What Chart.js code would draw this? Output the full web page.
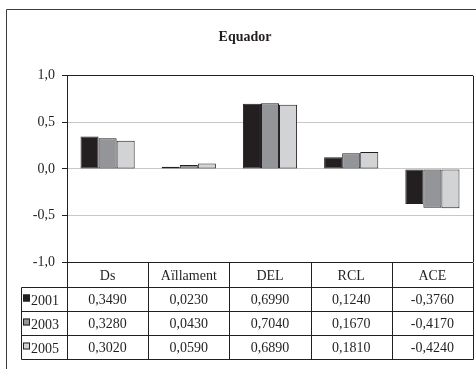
<!DOCTYPE html>
<html>
<head>
<meta charset="utf-8">
<script src="https://cdn.jsdelivr.net/npm/chart.js@4"></script>
<style>
  body { margin: 0; background: #fff; }
  canvas { display: block; }
</style>
</head>
<body>
<canvas id="grafico" width="476" height="369"></canvas>
<script>
// dades
const categories = ["Ds", "Aïllament", "DEL", "RCL", "ACE"];
const anys = ["2001", "2003", "2005"];
const v2001 = [0.3490, 0.0230, 0.6990, 0.1240, -0.3760];
const v2003 = [0.3280, 0.0430, 0.7040, 0.1670, -0.4170];
const v2005 = [0.3020, 0.0590, 0.6890, 0.1810, -0.4240];
const yTicks = [-1, -0.5, 0, 0.5, 1];

const colors = ["#231f20", "#939598", "#d1d3d4"];
const serif = "'Liberation Serif', 'DejaVu Serif', serif";
const ink = "#231f20";

const fmt = v => v.toFixed(4).replace(".", ",");

// marc exterior + vora dreta del gràfic
const framePlugin = {
  id: 'frame',
  afterDraw(chart) {
    const { ctx, chartArea: a } = chart;
    ctx.save();
    ctx.strokeStyle = "#3a3a3a";
    ctx.lineWidth = 1;
    ctx.beginPath();
    ctx.moveTo(6.5, 369);
    ctx.lineTo(6.5, 9.5);
    ctx.lineTo(476, 9.5);
    ctx.stroke();
    ctx.strokeStyle = ink;
    ctx.beginPath();
    ctx.moveTo(Math.round(a.right) + 0.5, a.top);
    ctx.lineTo(Math.round(a.right) + 0.5, a.bottom);
    ctx.stroke();
    ctx.restore();
  }
};

// taula de dades sota el gràfic
const tablePlugin = {
  id: 'dataTable',
  afterDraw(chart) {
    const { ctx, chartArea: a } = chart;
    const colW = (a.right - a.left) / categories.length;
    const left = 21.5;
    const right = Math.round(a.right) + 0.5;
    const top = Math.round(a.bottom) + 0.5;
    const headH = 25, rowH = 24;
    const series = [v2001, v2003, v2005];

    ctx.save();
    ctx.strokeStyle = ink;
    ctx.lineWidth = 1;
    ctx.beginPath();
    // línies horitzontals
    for (let r = 0; r <= series.length; r++) {
      const y = top + headH + r * rowH;
      ctx.moveTo(left, y);
      ctx.lineTo(right, y);
    }
    // línies verticals
    const bottom = top + headH + series.length * rowH;
    ctx.moveTo(left, top + headH);
    ctx.lineTo(left, bottom);
    for (let i = 0; i <= categories.length; i++) {
      const x = Math.round(a.left + i * colW) + 0.5;
      ctx.moveTo(x, top);
      ctx.lineTo(x, bottom);
    }
    ctx.stroke();

    ctx.fillStyle = ink;
    ctx.font = "14px " + serif;
    ctx.textAlign = "center";
    ctx.textBaseline = "middle";
    categories.forEach((c, i) => {
      ctx.fillText(c, a.left + (i + 0.5) * colW, top + headH / 2 + 1);
    });
    series.forEach((vals, r) => {
      const yc = top + headH + r * rowH + rowH / 2 + 1;
      vals.forEach((v, i) => {
        ctx.fillText(fmt(v), a.left + (i + 0.5) * colW, yc);
      });
      // clau de la llegenda
      ctx.fillStyle = colors[r];
      ctx.fillRect(23, yc - 6, 7, 7);
      ctx.strokeRect(23.5, yc - 5.5, 6, 6);
      ctx.fillStyle = ink;
      ctx.textAlign = "left";
      ctx.fillText(anys[r], 31, yc + 1);
      ctx.textAlign = "center";
    });
    ctx.restore();
  }
};

new Chart(document.getElementById("grafico"), {
  type: 'bar',
  data: {
    labels: categories,
    datasets: [v2001, v2003, v2005].map((vals, i) => ({
      label: anys[i],
      data: vals,
      backgroundColor: colors[i],
      borderColor: ink,
      borderWidth: 1,
      borderSkipped: false,
      categoryPercentage: 0.667,
      barPercentage: 1
    }))
  },
  options: {
    responsive: false,
    devicePixelRatio: 1,
    animation: false,
    layout: { padding: { top: 9, left: 17, right: 3, bottom: 107 } },
    plugins: {
      legend: { display: false },
      tooltip: { enabled: false },
      title: {
        display: true,
        text: "Equador",
        color: ink,
        font: { family: serif, size: 14, weight: 'bold' },
        padding: { top: 20, bottom: 30 }
      }
    },
    scales: {
      x: { display: false },
      y: {
        min: -1,
        max: 1,
        afterBuildTicks: scale => { scale.ticks = yTicks.map(v => ({ value: v })); },
        afterFit: scale => { scale.width = 50; },
        border: { color: ink, width: 1 },
        grid: {
          color: c => Math.abs(c.tick.value) === 1 ? ink : "#c8c8c8",
          lineWidth: 1,
          tickColor: ink,
          tickLength: 5
        },
        ticks: {
          color: ink,
          padding: 7,
          font: { family: serif, size: 14 },
          callback: v => v.toFixed(1).replace(".", ",")
        }
      }
    }
  },
  plugins: [framePlugin, tablePlugin]
});
</script>
</body>
</html>
